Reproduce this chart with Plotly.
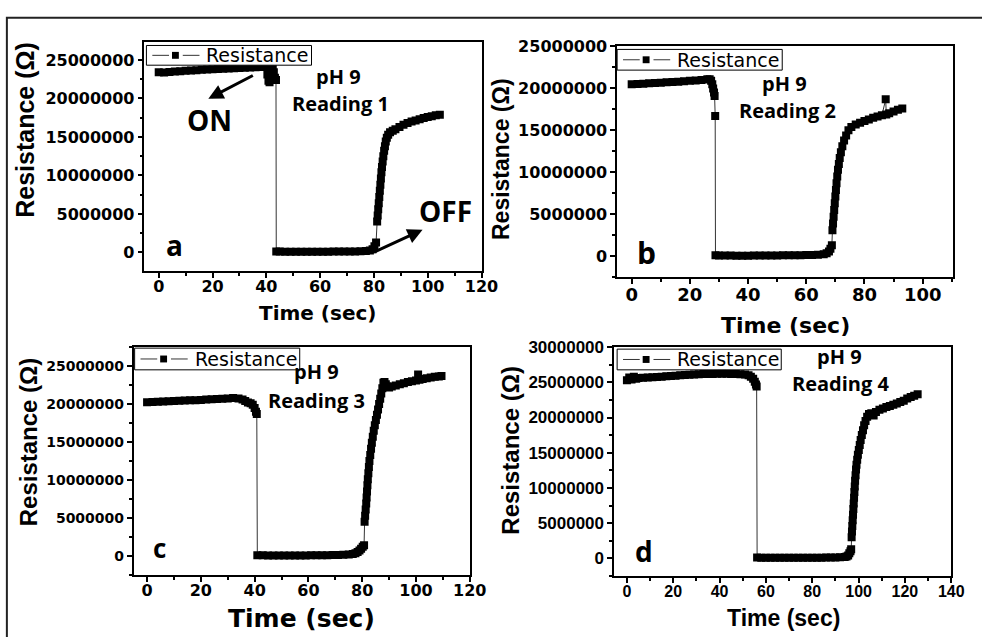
import numpy as np
import plotly.graph_objects as go

W, H = 982, 637

# ---------------- data (time in s, resistance in MOhm) ----------------
time_1 = [0, 2, 4, 6, 8, 10, 12, 14, 16, 18, 20, 22, 24, 26, 28, 30, 32, 34, 36, 38, 39.5,
          40, 40.4, 40.8, 41.2, 41.6, 42, 42.4, 42.8, 43.2, 43.6,
          43.7, 45, 47, 49, 51, 53, 55, 57, 59, 61, 63, 65, 67, 69, 71, 73, 75, 77,
          78.5, 79.5, 80.2, 80.8,
          81.2, 81.4, 81.6, 81.8, 82.0, 82.2, 82.4, 82.6, 82.8, 83.0, 83.25, 83.5, 83.8,
          84.1, 84.4, 84.8, 85.3, 86, 87, 88, 89.5, 91, 92.5, 94, 95.5, 97, 98.5, 100,
          101.5, 103, 104.5]
res_1 = [23.40, 23.38, 23.45, 23.50, 23.55, 23.60, 23.63, 23.68, 23.72, 23.76, 23.80, 23.84,
         23.87, 23.90, 23.93, 23.96, 23.99, 24.02, 24.05, 24.08, 24.10,
         24.4, 23.1, 22.3, 22.1, 22.8, 23.9, 24.3, 23.4, 22.7, 22.4,
         0.12, 0.10, 0.08, 0.08, 0.07, 0.07, 0.07, 0.08, 0.08, 0.09, 0.09, 0.10, 0.10, 0.11,
         0.12, 0.13, 0.15, 0.18,
         0.25, 0.40, 0.80, 1.30,
         4.0, 4.8, 5.6, 6.4, 7.2, 8.0, 8.8, 9.6, 10.4, 11.1, 11.8, 12.5, 13.2,
         13.8, 14.4, 14.9, 15.3, 15.6, 15.8, 16.0, 16.3, 16.6, 16.8, 17.0, 17.15, 17.3, 17.45,
         17.6, 17.7, 17.82, 17.9]

time_2 = [0, 2, 4, 6, 8, 10, 12, 14, 16, 18, 20, 22, 24, 26,
          26.8, 27.3, 27.7, 28, 28.3, 28.5, 28.7,
          28.8, 30, 32, 34, 36, 38, 40, 42, 44, 46, 48, 50, 52, 54, 56, 58, 60, 62, 64, 66,
          67, 67.8, 68.3, 68.8,
          69, 69.2, 69.4, 69.6, 69.8, 70, 70.2, 70.4, 70.65, 70.9, 71.2, 71.5, 71.9, 72.4,
          73, 73.7, 74.5, 75.5, 77, 78.5, 80, 81.5, 83, 84.5, 86, 87.3, 87.5, 88.5, 90,
          91.5, 93]
res_2 = [20.50, 20.52, 20.56, 20.60, 20.64, 20.68, 20.72, 20.76, 20.80, 20.85, 20.90, 20.95,
         21.00, 21.08,
         21.1, 20.9, 20.5, 20.0, 19.5, 19.1, 16.7,
         0.10, 0.08, 0.07, 0.07, 0.06, 0.06, 0.06, 0.07, 0.07, 0.08, 0.08, 0.09, 0.10, 0.10,
         0.11, 0.12, 0.13, 0.15, 0.18, 0.22,
         0.35, 0.55, 0.90, 1.30,
         3.1, 3.9, 4.7, 5.5, 6.3, 7.1, 7.9, 8.7, 9.5, 10.3, 11.0, 11.7, 12.4, 13.1,
         13.8, 14.4, 15.0, 15.4, 15.7, 15.9, 16.1, 16.3, 16.5, 16.65, 16.8, 18.7, 16.9, 17.05,
         17.25, 17.45, 17.6]

time_3 = [0, 2, 4, 6, 8, 10, 12, 14, 16, 18, 20, 22, 24, 26, 28, 30, 32,
          34, 35.5, 36.5, 37.5, 38.5, 39.3, 40, 40.5, 40.8,
          41, 43, 45, 47, 49, 51, 53, 55, 57, 59, 61, 63, 65, 67, 69, 71, 73, 75,
          76.5, 77.5, 78.3, 79, 79.6, 80.2, 80.7,
          80.9, 81.1, 81.3, 81.5, 81.65, 81.8, 81.95, 82.1, 82.3, 82.5, 82.7, 83, 83.3, 83.6,
          83.95, 84.3, 84.7, 85.1, 85.5, 85.9, 86.3, 86.7, 87.1, 87.5, 87.9, 88.3, 88.8,
          89.4, 90, 91, 92.5, 94, 95.5, 97, 98.5, 100, 100.8, 101.3, 102.5, 104, 105.5, 107,
          108.5, 109.5]
res_3 = [20.25, 20.28, 20.30, 20.33, 20.36, 20.40, 20.43, 20.46, 20.50, 20.52, 20.55, 20.60,
         20.63, 20.67, 20.70, 20.75, 20.80,
         20.75, 20.6, 20.4, 20.2, 20.1, 19.9, 19.5, 19.0, 18.7,
         0.10, 0.08, 0.07, 0.07, 0.06, 0.06, 0.06, 0.07, 0.07, 0.07, 0.08, 0.08, 0.09, 0.10,
         0.11, 0.12, 0.14, 0.17,
         0.25, 0.35, 0.50, 0.70, 0.95, 1.20, 1.40,
         4.5, 5.3, 6.1, 6.9, 7.7, 8.5, 9.3, 10.1, 10.9, 11.7, 12.5, 13.3, 14.1, 14.9,
         15.7, 16.5, 17.2, 17.9, 18.6, 19.3, 20.0, 20.7, 21.4, 22.1, 22.8, 22.9, 22.6,
         22.3, 22.2, 22.3, 22.45, 22.6, 22.75, 22.9, 23.0, 23.1, 23.9, 23.2, 23.3, 23.4, 23.5,
         23.6, 23.65, 23.7]

time_4 = [0, 1, 2, 3, 4, 5, 7, 9, 11, 13, 15, 17, 19, 21, 23, 25, 27, 29, 31, 33, 35, 37,
          39, 41, 43, 45, 47, 49, 51, 52.5, 53.5, 54.5, 55.2, 55.7, 56,
          56.2, 58, 60, 62, 64, 66, 68, 70, 72, 74, 76, 78, 80, 82, 84, 86, 88, 90, 92, 94,
          94.8, 95.5, 96, 96.5, 96.8,
          97, 97.15, 97.3, 97.45, 97.6, 97.75, 97.9, 98.05, 98.2, 98.35, 98.5, 98.7, 98.9,
          99.1, 99.4, 99.7, 100.1, 100.5, 100.9, 101.4, 101.9, 102.4, 103, 103.7, 104.5,
          105.5, 106.5, 107.5, 109, 110.5, 112, 113.5, 115, 116.5, 118, 119.5, 121, 122.5,
          124, 125.5]
res_4 = [25.3, 25.7, 25.4, 25.8, 25.5, 25.6, 25.65, 25.70, 25.72, 25.76, 25.80, 25.85, 25.90,
         25.95, 26.00, 26.04, 26.08, 26.11, 26.14, 26.17, 26.19, 26.20, 26.22, 26.22, 26.21,
         26.20, 26.18, 26.15, 26.10, 26.0, 25.8, 25.5, 25.1, 24.7, 24.4,
         0.10, 0.08, 0.07, 0.07, 0.06, 0.06, 0.06, 0.06, 0.07, 0.07, 0.07, 0.08, 0.08, 0.09,
         0.09, 0.10, 0.11, 0.12, 0.14, 0.17,
         0.25, 0.40, 0.70, 1.00, 1.30,
         3.0, 3.8, 4.6, 5.4, 6.2, 7.0, 7.8, 8.6, 9.4, 10.2, 11.0, 11.8, 12.6,
         13.3, 14.0, 14.7, 15.4, 16.1, 16.8, 17.5, 18.2, 18.9, 19.5, 20.1, 20.5,
         20.6, 20.3, 20.8, 21.1, 21.3, 21.5, 21.65, 21.8, 22.0, 22.2, 22.4, 22.7, 22.9,
         23.1, 23.3]

# tick values
x_ticks_1 = [0, 20, 40, 60, 80, 100, 120]
x_ticks_2 = [0, 20, 40, 60, 80, 100]
x_ticks_3 = [0, 20, 40, 60, 80, 100, 120]
x_ticks_4 = [0, 20, 40, 60, 80, 100, 120, 140]
y_ticks_1 = [0, 5000000, 10000000, 15000000, 20000000, 25000000]
y_ticks_2 = [0, 5000000, 10000000, 15000000, 20000000, 25000000]
y_ticks_3 = [0, 5000000, 10000000, 15000000, 20000000, 25000000]
y_ticks_4 = [0, 5000000, 10000000, 15000000, 20000000, 25000000, 30000000]

series_name = "Resistance"
panel_letters = ["a", "b", "c", "d"]

# ---------------- panel geometry (pixels from top-left) ----------------
panels = [
    dict(t=time_1, r=res_1, xt=x_ticks_1, yt=y_ticks_1,
         px=(147, 490), py=(33, 266), xr=[-5.3, 120], yr=[-2.45e6, 27.4e6],
         xfont=("DejaVu Sans", 16), yfont=("DejaVu Sans", 16), leg=(149, 37, 317, 57)),
    dict(t=time_2, r=res_2, xt=x_ticks_2, yt=y_ticks_2,
         px=(628, 970), py=(38, 272), xr=[-5, 110.5], yr=[-2.5e6, 25e6],
         xfont=("DejaVu Sans", 18), yfont=("DejaVu Sans", 16), leg=(628, 41, 796, 62)),
    dict(t=time_3, r=res_3, xt=x_ticks_3, yt=y_ticks_3,
         px=(136, 478), py=(343, 574), xr=[-5, 120], yr=[-2.5e6, 27.5e6],
         xfont=("DejaVu Sans", 16), yfont=("DejaVu Sans", 14), leg=(137, 344, 305, 366)),
    dict(t=time_4, r=res_4, xt=x_ticks_4, yt=y_ticks_4,
         px=(625, 968), py=(343, 575), xr=[-5.5, 140], yr=[-2.5e6, 30e6],
         xfont=("Liberation Sans", 16), yfont=("Liberation Sans", 17), leg=(628, 345, 795, 366)),
]


def fx(px):
    return px / W


def fy(py):
    return 1 - py / H


def bold(vals):
    return [f"<b>{v:d}</b>" for v in vals]


fig = go.Figure()
layout = dict(width=W, height=H, margin=dict(l=0, r=0, t=0, b=0, pad=0),
              paper_bgcolor="white", plot_bgcolor="white", showlegend=False)

for i, p in enumerate(panels, start=1):
    sfx = "" if i == 1 else str(i)
    fig.add_trace(go.Scatter(
        x=p["t"], y=np.array(p["r"]) * 1e6, mode="lines+markers", name=series_name,
        xaxis=f"x{sfx}", yaxis=f"y{sfx}",
        line=dict(color="#333333", width=1),
        marker=dict(symbol="square", size=8, color="black", line=dict(width=0)),
    ))
    axis_common = dict(showline=True, linecolor="black", linewidth=1.5, mirror=True,
                       ticks="outside", ticklen=5, tickwidth=1.5, tickcolor="black",
                       showgrid=False, zeroline=False, tickmode="array")
    layout[f"xaxis{sfx}"] = dict(
        axis_common, domain=[fx(p["px"][0]), fx(p["px"][1])], range=p["xr"],
        anchor=f"y{sfx}", tickvals=p["xt"], ticktext=bold(p["xt"]), ticklabelstandoff=-5,
        tickfont=dict(family=p["xfont"][0], size=p["xfont"][1], color="black", weight="bold"),
        minor=dict(dtick=10, tick0=0, ticks="outside", ticklen=3, tickcolor="black"),
    )
    layout[f"yaxis{sfx}"] = dict(
        axis_common, domain=[fy(p["py"][1]), fy(p["py"][0])], range=p["yr"],
        anchor=f"x{sfx}", tickvals=p["yt"], ticktext=bold(p["yt"]),
        tickfont=dict(family=p["yfont"][0], size=p["yfont"][1], color="black", weight="bold"),
        minor=dict(dtick=2.5e6, tick0=0, ticks="outside", ticklen=3, tickcolor="black"),
    )

fig.update_layout(**layout)

# ---------------- legend key boxes ----------------
for p in panels:
    x0, y0, x1, y1 = p["leg"]
    ym = (y0 + y1) / 2
    fig.add_shape(type="rect", xref="paper", yref="paper", x0=fx(x0), x1=fx(x1),
                  y0=fy(y1), y1=fy(y0), fillcolor="white", line=dict(color="black", width=1))
    for a, b in [(x0 + 6, x0 + 23), (x0 + 37, x0 + 54)]:
        fig.add_shape(type="line", xref="paper", yref="paper", x0=fx(a), x1=fx(b),
                      y0=fy(ym), y1=fy(ym), line=dict(color="#333333", width=1))
    fig.add_shape(type="rect", xref="paper", yref="paper", x0=fx(x0 + 26), x1=fx(x0 + 33),
                  y0=fy(ym + 3.5), y1=fy(ym - 3.5), fillcolor="black", line=dict(width=0))
    fig.add_annotation(text=series_name, x=fx(x0 + 59), y=fy(ym), xref="paper", yref="paper",
                       showarrow=False, xanchor="left", yanchor="middle",
                       font=dict(family="DejaVu Sans", size=19, color="black"))


# ---------------- texts ----------------
def label(text, x, y, family, size, angle=0):
    fig.add_annotation(text=f"<b>{text}</b>", x=fx(x), y=fy(y), xref="paper", yref="paper",
                       showarrow=False, textangle=angle, xanchor="center", yanchor="middle",
                       font=dict(family=family, size=size, color="black"))

# axis titles
label("Time (sec)", 323, 308, "DejaVu Sans", 20)
label("Time (sec)", 799, 321, "DejaVu Sans", 22)
label("Time (sec)", 307, 618, "DejaVu Sans", 25)
label("Time (sec)", 797, 618, "Liberation Sans", 23)
label("Resistance (Ω)", 26, 123, "Liberation Sans", 25, angle=-90)
label("Resistance (Ω)", 510, 152, "Liberation Sans", 23, angle=-90)
label("Resistance (Ω)", 29, 439, "Liberation Sans", 24, angle=-90)
label("Resistance (Ω)", 520, 447, "Liberation Sans", 24, angle=-90)

# in-plot notes
for ph_xy, rd_xy, n in [((344, 68), (347, 96), 1), ((798, 76), (801, 103), 2),
                        ((322, 368), (322, 397), 3), ((854, 352), (855, 380), 4)]:
    label("pH 9", *ph_xy, "Open Sans", 20)
    label(f"Reading {n}", *rd_xy, "Open Sans", 20)

for letter, (x, y, s) in zip(panel_letters, [(178, 239, 28), (658, 247, 30),
                                             (162, 547, 26), (655, 550, 28)]):
    label(letter, x, y, "Open Sans", s)
label("ON", 213, 113, "Open Sans", 28)
label("OFF", 453, 205, "Open Sans", 28)

# ON / OFF arrows
for head, tail in [((212, 91), (258, 67)), ((430, 224), (380, 247))]:
    fig.add_annotation(text="", x=fx(head[0]), y=fy(head[1]), xref="paper", yref="paper",
                       ax=tail[0] - head[0], ay=tail[1] - head[1], showarrow=True,
                       arrowhead=2, arrowsize=1, arrowwidth=3, arrowcolor="black")

# frame around the whole figure
fig.add_shape(type="rect", xref="paper", yref="paper", x0=fx(7), y0=-0.05, x1=1.05, y1=fy(9),
              line=dict(color="#222222", width=2))

fig.write_html("out.html")
